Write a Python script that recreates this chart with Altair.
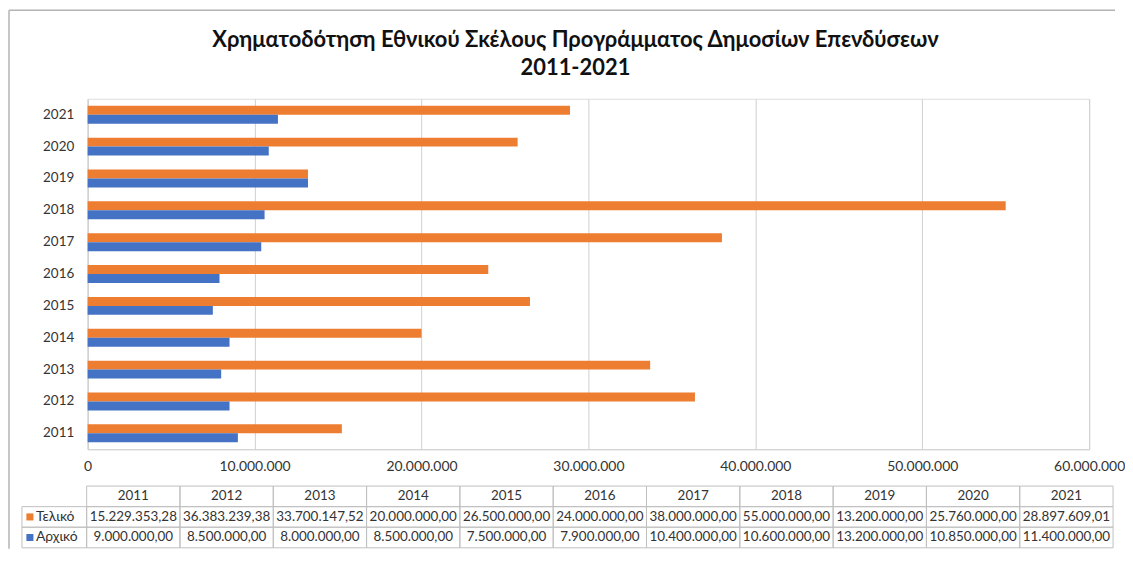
import altair as alt
import pandas as pd

years = ["2011", "2012", "2013", "2014", "2015", "2016", "2017", "2018", "2019", "2020", "2021"]
teliko = [15229353.28, 36383239.38, 33700147.52, 20000000.00, 26500000.00, 24000000.00,
          38000000.00, 55000000.00, 13200000.00, 25760000.00, 28897609.01]
arxiko = [9000000.00, 8500000.00, 8000000.00, 8500000.00, 7500000.00, 7900000.00,
          10400000.00, 10600000.00, 13200000.00, 10850000.00, 11400000.00]
series_names = ["Τελικό", "Αρχικό"]
series_colors = ["#ED7D31", "#4472C4"]
x_ticks = [0, 10000000, 20000000, 30000000, 40000000, 50000000, 60000000]
title_lines = ["Χρηματοδότηση Εθνικού Σκέλους Προγράμματος Δημοσίων Επενδύσεων", "2011-2021"]
header_key = "Έτος"
table_rows = [header_key] + series_names

FONT = "Lato"
W, H = 1006, 352

bars_df = pd.DataFrame({
    "year": years * 2,
    "series": [series_names[0]] * len(years) + [series_names[1]] * len(years),
    "value": teliko + arxiko,
})
table_vals_df = bars_df.rename(columns={"series": "row"})
header_df = pd.DataFrame({"year": years, "row": [header_key] * len(years), "label": years})
cells_df = pd.DataFrame({"year": [y for r in table_rows for y in years],
                         "row": [r for r in table_rows for _ in years]})
labels_df = pd.DataFrame({"row": series_names})
one_df = pd.DataFrame({"k": [0]})

color_enc = alt.Color("series:N", scale=alt.Scale(domain=series_names, range=series_colors), legend=None)

bars = alt.Chart(bars_df).mark_bar().encode(
    y=alt.Y("year:N", sort=years[::-1],
            scale=alt.Scale(paddingInner=0.4375, paddingOuter=0.21875),
            axis=alt.Axis(title=None, ticks=False, domain=True, domainColor="#d0d0d0",
                          labelPadding=14, labelFontSize=13.5, labelColor="#333333",
                          labelFont=FONT, grid=False)),
    yOffset=alt.YOffset("series:N", sort=series_names,
                        scale=alt.Scale(domain=series_names, paddingInner=0, paddingOuter=0)),
    x=alt.X("value:Q", scale=alt.Scale(domain=[0, 60000000], nice=False),
            axis=alt.Axis(title=None, values=x_ticks, format=",.0f", ticks=False, grid=True,
                          gridColor="#d0d0d0", domainColor="#d0d0d0", labelPadding=10,
                          labelFontSize=14, labelColor="#333333", labelFont=FONT,
                          labelFlush=False, labelOverlap=False)),
    color=color_enc,
)

tx = alt.X("year:N", sort=years,
           scale=alt.Scale(domain=years, range=[-1, 1030], paddingInner=0, paddingOuter=0),
           axis=None)
ty = alt.Y("row:N", sort=table_rows,
           scale=alt.Scale(domain=table_rows, range=[389, 451], paddingInner=0, paddingOuter=0),
           axis=None)

cells = alt.Chart(cells_df).mark_rect(filled=False, stroke="#bfbfbf", strokeWidth=1).encode(x=tx, y=ty)
label_cells = alt.Chart(labels_df).mark_rect(filled=False, stroke="#bfbfbf", strokeWidth=1).encode(
    x=alt.value(-66), x2=alt.value(-1), y=ty)
header_text = alt.Chart(header_df).mark_text(font=FONT, fontSize=13.5, color="#333333").encode(
    x=tx, y=ty, text="label:N")
value_text = alt.Chart(table_vals_df).mark_text(font=FONT, fontSize=13.5, color="#333333").encode(
    x=tx, y=ty, text=alt.Text("value:Q", format=",.2f"))
squares = alt.Chart(labels_df).mark_square(size=50, opacity=1).encode(
    x=alt.value(-58), y=ty,
    color=alt.Color("row:N", scale=alt.Scale(domain=series_names, range=series_colors), legend=None))
label_text = alt.Chart(labels_df).mark_text(font=FONT, fontSize=14, color="#333333", align="left").encode(
    x=alt.value(-52), y=ty, text="row:N")

frame_left = alt.Chart(one_df).mark_rule(color="#b4b4b4", strokeWidth=1.5).encode(
    x=alt.value(-79), y=alt.value(-89), y2=alt.value(452))
frame_top = alt.Chart(one_df).mark_rule(color="#b4b4b4", strokeWidth=1.5).encode(
    x=alt.value(-79), x2=alt.value(1032), y=alt.value(-89))

title1 = alt.Chart(one_df).mark_text(font=FONT, fontSize=22, fontWeight="bold", color="#111111",
                                     align="center", baseline="middle").encode(
    x=alt.value(490), y=alt.value(-59), text=alt.value(title_lines[0]))
title2 = alt.Chart(one_df).mark_text(font=FONT, fontSize=22, fontWeight="bold", color="#111111",
                                     align="center", baseline="middle").encode(
    x=alt.value(490), y=alt.value(-31), text=alt.value(title_lines[1]))

chart = alt.layer(
    frame_left, frame_top, cells, label_cells, header_text, value_text, squares, label_text,
    bars, title1, title2
).resolve_scale(
    x="independent", y="independent"
).properties(
    width=W, height=H, padding=0, background="white"
).configure_view(
    stroke=None
).configure(
    font=FONT,
    locale={"number": {"decimal": ",", "thousands": ".", "grouping": [3], "currency": ["", " €"]}},
)

chart.save("out.html", embed_options={"renderer": "svg", "actions": False})
